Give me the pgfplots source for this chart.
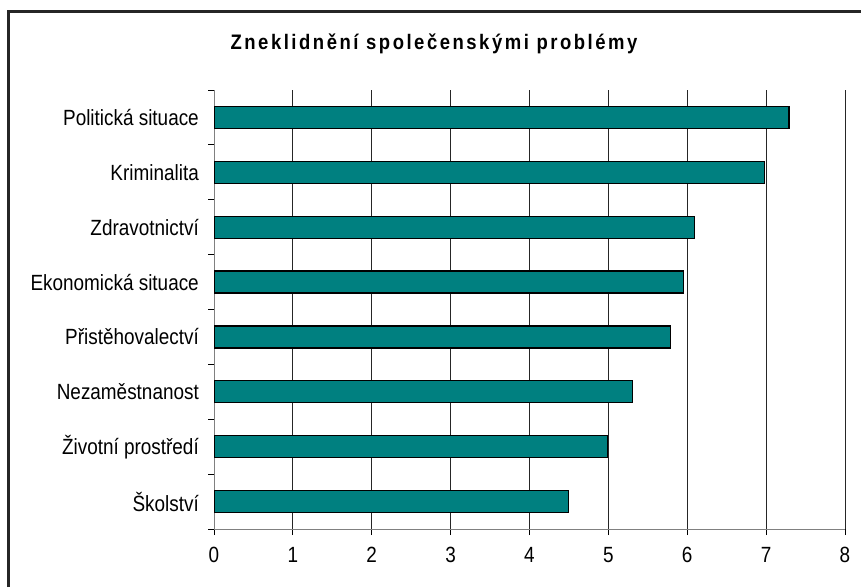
\documentclass[border=0pt]{standalone}
\usepackage{pgfplots}
\pgfplotsset{compat=1.18}
\usepackage{fontspec}
\setmainfont{Liberation Sans}
\newfontfamily\labfont[FakeStretch=0.86]{Liberation Sans}
\newfontfamily\titfont[FakeStretch=0.88,LetterSpace=12]{Liberation Sans}
\definecolor{barteal}{RGB}{0,128,128}
\definecolor{axgray}{RGB}{128,128,128}
\begin{document}
\begin{tikzpicture}[x=1pt,y=1pt]
\useasboundingbox (0,0) rectangle (861,587);
\draw[line width=2.2pt, color=black!85] (8.5,0) -- (8.5,575.5) -- (861,575.5);
\node[font=\titfont\bfseries\fontsize{21}{21}\selectfont] at (434,543) {Zneklidnění společenskými problémy};
\begin{axis}[
  at={(214pt,58pt)}, anchor=south west,
  width=631pt, height=439pt, scale only axis,
  xmin=0, xmax=8, ymin=0.5, ymax=8.5,
  axis x line*=bottom, axis y line*=left,
  axis line style={draw=axgray, line width=1pt, -},
  xtick={0,...,8},
  ytick={1,...,8},
  yticklabels={Školství,Životní prostředí,Nezaměstnanost,Přistěhovalectví,Ekonomická situace,Zdravotnictví,Kriminalita,Politická situace},
  minor ytick={0.5,1.5,...,8.5},
  tick align=outside,
  xtick pos=bottom, ytick pos=left,
  x tick style={draw=black, line width=0.8pt},
  major tick length=6pt,
  y tick style={draw=none},
  minor y tick style={draw=black, line width=0.8pt},
  minor tick length=6pt,
  xmajorgrids,
  grid style={draw=black!85, line width=0.8pt},
  xticklabel style={font=\labfont\fontsize{22}{22}\selectfont, inner sep=0pt, yshift=-12pt},
  yticklabel style={font=\labfont\fontsize{22}{22}\selectfont, inner sep=0pt, xshift=-9pt},
  /pgf/number format/assume math mode=true,
  xbar, bar width=22pt,
]
\addplot[fill=barteal, draw=black, line width=1.3pt] coordinates {
 (4.49,1) (4.99,2) (5.31,3) (5.79,4) (5.95,5) (6.09,6) (6.98,7) (7.29,8)
};
\end{axis}
\end{tikzpicture}
\end{document}
